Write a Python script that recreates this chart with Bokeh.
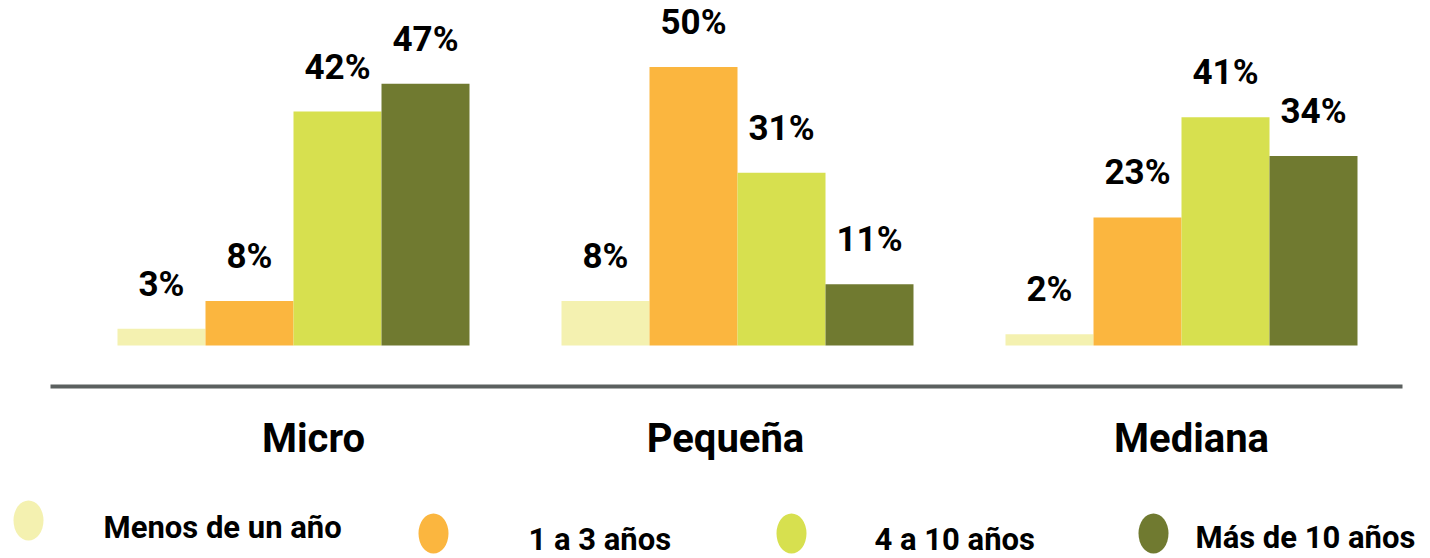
from bokeh.plotting import figure
from bokeh.layouts import column
from bokeh.models import ColumnDataSource, Range1d
from bokeh.core.properties import value
from bokeh.embed import file_html
from bokeh.resources import INLINE

# Company size groups and company-age series
groups = ["Micro", "Pequeña", "Mediana"]
series = ["Menos de un año", "1 a 3 años", "4 a 10 años", "Más de 10 años"]
menos_de_un_ano = [3, 8, 2]
uno_a_tres = [8, 50, 23]
cuatro_a_diez = [42, 31, 41]
mas_de_diez = [47, 11, 34]
values_by_series = [menos_de_un_ano, uno_a_tres, cuatro_a_diez, mas_de_diez]

colors = ["#f4f1b0", "#fbb63f", "#d7e04f", "#707a30"]
FONT = value("Roboto")

W = 1430
MAIN_H = 470
LEG_H = 88

# horizontal scale: one unit per group
px_per_unit = 444.0
first_center_px = 293.0
bar_w = 88.0 / px_per_unit
# vertical scale: percent
px_per_pct = 5.57
base_px = 345.0

p = figure(width=W, height=MAIN_H, output_backend="svg", toolbar_location=None,
           x_range=Range1d(-first_center_px / px_per_unit, (W - first_center_px) / px_per_unit),
           y_range=Range1d(-(MAIN_H - base_px) / px_per_pct, base_px / px_per_pct),
           min_border=0)
p.axis.visible = False
p.grid.visible = False
p.outline_line_color = None
p.background_fill_color = "white"
p.border_fill_color = "white"

offsets = [-1.5, -0.5, 0.5, 1.5]
for k, (vals, col) in enumerate(zip(values_by_series, colors)):
    xs = [i + offsets[k] * bar_w for i in range(len(groups))]
    src = ColumnDataSource(dict(x=xs, top=vals, label=[f"{v}%" for v in vals]))
    p.vbar(x="x", top="top", bottom=0, width=bar_w, source=src,
           fill_color=col, line_color=None)
    p.text(x="x", y="top", text="label", source=src, text_align="center",
           text_baseline="bottom", y_offset=-24, text_font=FONT,
           text_font_style="bold", text_font_size="35px", text_color="black")

# separator line under the bars
line_y = -(386 - base_px) / px_per_pct
p.line(x=[(50 - first_center_px) / px_per_unit, (1402 - first_center_px) / px_per_unit],
       y=[line_y, line_y], line_color="#5b605f", line_width=4)

# group names
name_y = -(438 - base_px) / px_per_pct
name_src = ColumnDataSource(dict(x=list(range(len(groups))), y=[name_y] * len(groups),
                                 text=groups, dx=[20, -12, 10]))
p.text(x="x", y="y", text="text", x_offset="dx", source=name_src,
       text_align="center", text_baseline="middle", text_font=FONT,
       text_font_style="bold", text_font_size="40px", text_color="black")

# legend strip
leg = figure(width=W, height=LEG_H, output_backend="svg", toolbar_location=None,
             x_range=Range1d(0, W), y_range=Range1d(0, LEG_H), min_border=0)
leg.axis.visible = False
leg.grid.visible = False
leg.outline_line_color = None

dot_x = [28, 433, 791, 1153]
dot_y = [558 - yy for yy in [520, 533, 533, 533]]
txt_x = [103, 528, 874, 1195]
txt_y = [558 - yy for yy in [527, 539, 539, 537]]

leg.ellipse(x=dot_x, y=dot_y, width=30, height=40, fill_color=colors, line_color=None)
leg.text(x=txt_x, y=txt_y, text=series, text_align="left", text_baseline="middle",
         text_font=FONT, text_font_style="bold", text_font_size="31px",
         text_color="black")

layout = column(p, leg, spacing=0)
open("out.html", "w").write(file_html(layout, INLINE))
